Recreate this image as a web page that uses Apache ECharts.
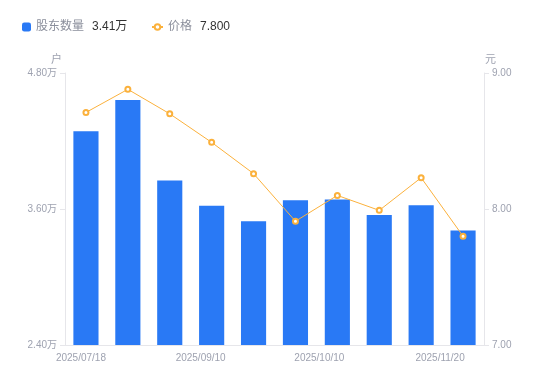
<!DOCTYPE html>
<html>
<head>
<meta charset="utf-8">
<script src="https://cdn.jsdelivr.net/npm/echarts@6/dist/echarts.min.js"></script>
<style>
  html, body { margin: 0; padding: 0; background: #fff; }
  #main { width: 550px; height: 381px; }
</style>
</head>
<body>
<div id="main"></div>
<script>
var dates = ['2025/07/18', '2025/07/31', '2025/08/20', '2025/09/10', '2025/09/19',
             '2025/09/30', '2025/10/10', '2025/10/20', '2025/10/31', '2025/11/20'];
var holders = [42860, 45620, 38510, 36280, 34930, 36780, 36830, 35480, 36340, 34100];
var prices = [8.71, 8.88, 8.70, 8.49, 8.26, 7.91, 8.10, 7.99, 8.23, 7.80];

var fontFam = '"Liberation Sans", "Noto Sans CJK SC", sans-serif';
var labelColor = '#9ea2b0';
var lineColor = '#e6e6ea';

// x labels sit a little left of the bar centres in the reference
var labelShift = { 0: 10, 3: 22, 6: 36, 9: 46 };
var xRich = {};
Object.keys(labelShift).forEach(function (k) {
    xRich['s' + k] = { padding: [0, labelShift[k], 0, 0], color: labelColor, fontSize: 10, fontFamily: fontFam };
});

var legendRich = {
    n: { color: '#8b8f9c', fontSize: 12, fontFamily: fontFam },
    v: { color: '#333333', fontSize: 12, fontFamily: fontFam, padding: [0, 0, 0, 8] }
};
function legendText(name) {
    if (name === '股东数量') {
        return '{n|' + name + '}{v|' + (holders[holders.length - 1] / 10000).toFixed(2) + '万}';
    }
    return '{n|' + name + '}{v|' + prices[prices.length - 1].toFixed(3) + '}';
}

var dom = document.getElementById('main');
var myChart = echarts.init(dom);
var option = {
    animation: false,
    textStyle: { fontFamily: fontFam },
    legend: [
        {
            left: 17,
            top: 16,
            itemWidth: 9,
            itemHeight: 9,
            data: [{ name: '股东数量', icon: 'roundRect' }],
            formatter: legendText,
            textStyle: { rich: legendRich }
        },
        {
            left: 146,
            top: 16,
            itemWidth: 11,
            itemHeight: 7,
            data: ['价格'],
            formatter: legendText,
            textStyle: { rich: legendRich }
        }
    ],
    grid: { left: 65, right: 66, top: 73, bottom: 36 },
    xAxis: {
        type: 'category',
        data: dates,
        axisLine: { lineStyle: { color: lineColor } },
        axisTick: { show: false },
        axisLabel: {
            interval: 2,
            margin: 8,
            formatter: function (v, i) {
                return '{s' + i + '|' + v + '}';
            },
            rich: xRich
        }
    },
    yAxis: [
        {
            type: 'value',
            name: '户',
            min: 24000,
            max: 48000,
            interval: 12000,
            nameGap: 8,
            nameTextStyle: { color: labelColor, fontSize: 11, align: 'right', padding: [0, 3, 0, 0] },
            axisLine: { show: true, lineStyle: { color: lineColor } },
            axisTick: { show: true, length: 5, lineStyle: { color: lineColor } },
            splitLine: { show: false },
            axisLabel: {
                color: labelColor,
                fontSize: 10,
                margin: 8,
                formatter: function (v) { return (v / 10000).toFixed(2) + '万'; }
            }
        },
        {
            type: 'value',
            name: '元',
            min: 7,
            max: 9,
            interval: 1,
            nameGap: 8,
            nameTextStyle: { color: labelColor, fontSize: 11, align: 'left', padding: [0, 0, 0, 1] },
            axisLine: { show: true, lineStyle: { color: lineColor } },
            axisTick: { show: true, length: 5, lineStyle: { color: lineColor } },
            splitLine: { show: false },
            axisLabel: {
                color: labelColor,
                fontSize: 10,
                margin: 8,
                formatter: function (v) { return v.toFixed(2); }
            }
        }
    ],
    series: [
        {
            name: '股东数量',
            type: 'bar',
            data: holders,
            barWidth: '60%',
            itemStyle: { color: '#2979f5' }
        },
        {
            name: '价格',
            type: 'line',
            yAxisIndex: 1,
            data: prices,
            symbol: 'emptyCircle',
            symbolSize: 5,
            lineStyle: { color: '#fbb13c', width: 1 },
            itemStyle: { color: '#fbb13c', borderWidth: 2 }
        }
    ]
};
myChart.setOption(option);
window.addEventListener('resize', function () {
    myChart.resize();
});
</script>
</body>
</html>
